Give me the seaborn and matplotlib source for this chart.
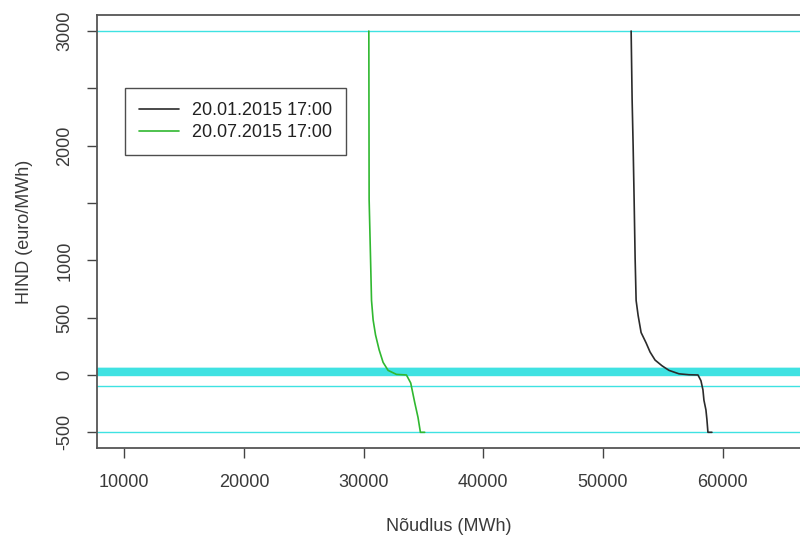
import numpy as np
import pandas as pd
import matplotlib
matplotlib.use("Agg")
import matplotlib.pyplot as plt
import seaborn as sns

# ---- data ----
jan_label = "20.01.2015 17:00"
jul_label = "20.07.2015 17:00"

jan_demand = [52350, 52433, 52517, 52600, 52683, 52767, 52933, 53183, 53600,
              53933, 54350, 54933, 55517, 56350, 57183, 57933, 58183, 58350,
              58433, 58600, 58683, 58767, 59100]
jan_price = [3000, 2400, 2000, 1530, 1020, 650, 520, 370, 280,
             200, 130, 80, 40, 10, 2, 0, -50, -130,
             -220, -305, -390, -500, -500]

jul_demand = [30433, 30458, 30575, 30658, 30792, 30992, 31292, 31625, 32042,
              32742, 33575, 33933, 34267, 34542, 34742, 35100]
jul_price = [3000, 1530, 1020, 650, 480, 350, 220, 110, 40,
             5, 0, -70, -240, -370, -500, -500]

price_levels = [3000, 65, 60, 55, 50, 45, 40, 35, 30, 25, 20, 15, 10, 5, 0, -100, -500]

y_ticks = [-500, 0, 500, 1000, 1500, 2000, 2500, 3000]
y_tick_labels = ["-500", "0", "500", "1000", "", "2000", "", "3000"]
x_ticks = [10000, 20000, 30000, 40000, 50000, 60000]

df = pd.DataFrame({
    "Nõudlus": jan_demand + jul_demand,
    "HIND": jan_price + jul_price,
    "series": [jan_label] * len(jan_demand) + [jul_label] * len(jul_demand),
})

# ---- plot ----
sns.set_theme(style="white")
plt.rcParams["font.family"] = ["Liberation Sans", "DejaVu Sans"]

fig = plt.figure(figsize=(8, 5.4), dpi=100)
ax = fig.add_axes([97 / 800, 1 - 448 / 540, 1 - 97 / 800, (448 - 15) / 540])

cyan = "#3fe2e2"
for lvl in price_levels:
    ax.axhline(lvl, color=cyan, lw=1.0, zorder=1)

palette = {jan_label: "#2b2b2b", jul_label: "#30b830"}
sns.lineplot(data=df, x="Nõudlus", y="HIND", hue="series", palette=palette,
             sort=False, estimator=None, lw=1.2, ax=ax, zorder=3)

ax.set_xlim(7720, 66460)
ax.set_ylim(-637, 3140)
ax.set_xticks(x_ticks)
ax.set_xticklabels([str(v) for v in x_ticks])
ax.set_yticks(y_ticks)
ax.set_yticklabels(y_tick_labels, rotation=90, va="center")

ax.tick_params(axis="both", direction="out", length=7, width=1,
               color="#444444", labelsize=13, labelcolor="#3a3a3a", pad=12,
               bottom=True, left=True)
ax.tick_params(axis="y", pad=10)
for side in ["left", "bottom", "top"]:
    ax.spines[side].set_color("#555555")
    ax.spines[side].set_linewidth(1.3)
ax.spines["right"].set_visible(False)

ax.set_xlabel("Nõudlus (MWh)", fontsize=13, color="#3a3a3a", labelpad=19)
ax.set_ylabel("HIND (euro/MWh)", fontsize=13, color="#3a3a3a", labelpad=17)

leg = ax.legend(loc="upper left", bbox_to_anchor=((125 - 97) / 703, 1 - (88 - 15) / 433),
                borderaxespad=0, fontsize=13, frameon=True, fancybox=False,
                handlelength=2.2, borderpad=0.8, labelspacing=0.25,
                handletextpad=0.7, title=None)
leg.get_frame().set_edgecolor("#222222")
leg.get_frame().set_linewidth(1.0)
for t in leg.get_texts():
    t.set_color("#222222")

fig.savefig("out.png", dpi=100)
